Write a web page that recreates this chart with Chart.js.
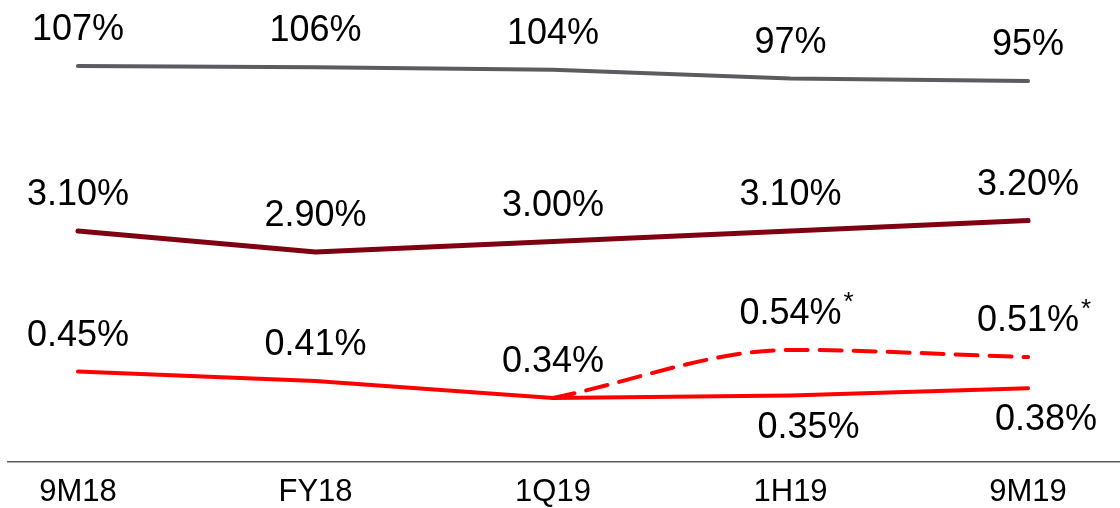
<!DOCTYPE html>
<html>
<head>
<meta charset="utf-8">
<title>Ratios</title>
<script src="https://cdn.jsdelivr.net/npm/chart.js@4.4.1/dist/chart.umd.min.js"></script>
<style>
    html, body { margin: 0; padding: 0; background: #fff; }
    #wrap { width: 1120px; height: 508px; position: relative; }
</style>
</head>
<body>
<div id="wrap"><canvas id="chart"></canvas></div>
<script>
// periods on the x axis
const periods = ["9M18", "FY18", "1Q19", "1H19", "9M19"];

// top grey line (%)
const greyValues = [107, 106, 104, 97, 95];
// dark red line (%)
const darkRedValues = [3.10, 2.90, 3.00, 3.10, 3.20];
// red solid line (%)
const redValues = [0.45, 0.41, 0.34, 0.35, 0.38];
// red dashed line (%), starts at 1Q19, labelled with *
const redDashedValues = [null, null, 0.34, 0.54, 0.51];

const FONT = "'Liberation Sans', Arial, sans-serif";

function toPoints(values) {
    return values.map((v, i) => ({ x: i, y: v }));
}

// draws value labels above / below each point
const valueLabels = {
    id: 'valueLabels',
    afterDatasetsDraw(chart) {
        const ctx = chart.ctx;
        ctx.save();
        ctx.fillStyle = '#000';
        ctx.textAlign = 'center';
        ctx.textBaseline = 'alphabetic';
        chart.data.datasets.forEach((ds, di) => {
            const meta = chart.getDatasetMeta(di);
            meta.data.forEach((pt, i) => {
                const v = ds.data[i].y;
                if (v === null || !ds.labelShow[i]) return;
                const text = v.toFixed(ds.decimals) + '%';
                const below = ds.labelBelow[i];
                const x = pt.x + (below ? 18 : 0);
                const y = below ? pt.y + 42 : pt.y - 26;
                ctx.font = '36px ' + FONT;
                ctx.fillText(text, x, y);
                if (ds.star) {
                    const w = ctx.measureText(text).width;
                    ctx.font = '26px ' + FONT;
                    ctx.textAlign = 'left';
                    ctx.fillText('*', x + w / 2 + 2, y - 14);
                    ctx.textAlign = 'center';
                }
            });
        });
        ctx.restore();
    }
};

new Chart(document.getElementById('chart'), {
    type: 'line',
    data: {
        datasets: [
            {
                label: 'grey',
                data: toPoints(greyValues),
                yAxisID: 'yGrey',
                borderColor: '#5b5b60',
                borderWidth: 4,
                decimals: 0,
                labelShow: [true, true, true, true, true],
                labelBelow: [false, false, false, false, false]
            },
            {
                label: 'darkred',
                data: toPoints(darkRedValues),
                yAxisID: 'yDark',
                borderColor: '#7f0010',
                borderWidth: 5,
                decimals: 2,
                labelShow: [true, true, true, true, true],
                labelBelow: [false, false, false, false, false]
            },
            {
                label: 'red',
                data: toPoints(redValues),
                yAxisID: 'yRed',
                borderColor: '#ff0000',
                borderWidth: 4,
                decimals: 2,
                labelShow: [true, true, true, true, true],
                labelBelow: [false, false, false, true, true]
            },
            {
                label: 'red dashed',
                data: toPoints(redDashedValues),
                yAxisID: 'yRed',
                borderColor: '#ff0000',
                borderWidth: 4,
                borderDash: [22, 12],
                cubicInterpolationMode: 'monotone',
                decimals: 2,
                star: true,
                labelShow: [false, false, false, true, true],
                labelBelow: [false, false, false, false, false]
            }
        ]
    },
    options: {
        responsive: true,
        maintainAspectRatio: false,
        animation: false,
        layout: { padding: { left: 8, right: 0, top: 0, bottom: 0 } },
        elements: {
            point: { radius: 0 },
            line: { borderCapStyle: 'round', borderJoinStyle: 'round', fill: false }
        },
        plugins: {
            legend: { display: false },
            tooltip: { enabled: false }
        },
        scales: {
            x: {
                type: 'linear',
                min: -0.2947,
                max: 4.387,
                grid: { display: false, drawTicks: false },
                border: { display: true, color: '#5a5a5a', width: 1.5 },
                afterBuildTicks: (scale) => {
                    scale.ticks = periods.map((p, i) => ({ value: i }));
                },
                afterFit: (scale) => { scale.height = 46; },
                ticks: {
                    autoSkip: false,
                    maxRotation: 0,
                    padding: 12,
                    color: '#000',
                    font: { family: FONT, size: 31 },
                    callback: (v) => periods[v]
                }
            },
            yGrey: { display: false, min: -209.8, max: 159.8 },
            yDark: { display: false, min: 0.9, max: 5.3 },
            yRed: { display: false, min: 0.073, max: 1.998 }
        }
    },
    plugins: [valueLabels]
});
</script>
</body>
</html>
